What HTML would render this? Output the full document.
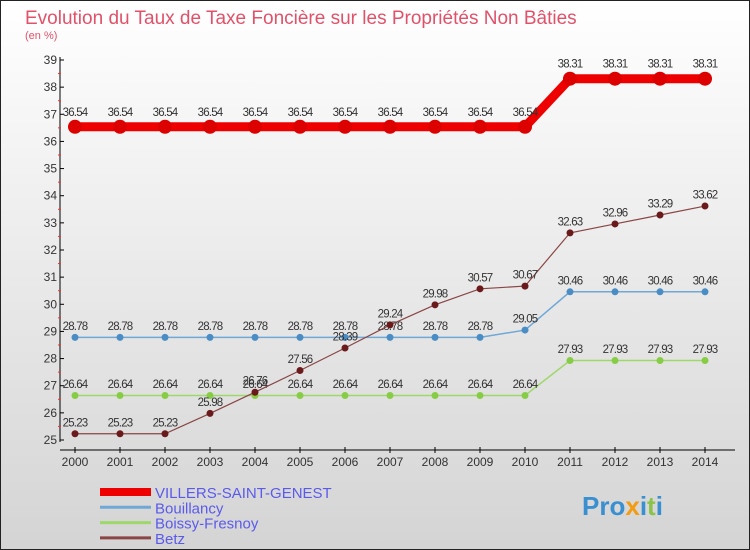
<!DOCTYPE html>
<html><head><meta charset="utf-8"><style>
body{margin:0}
#c{width:750px;height:550px;position:relative;overflow:hidden;font-family:"Liberation Sans",sans-serif}
</style></head><body>
<div id="c">
<svg id="s" width="750" height="550" xmlns="http://www.w3.org/2000/svg">
<defs><linearGradient id="bg" x1="0" y1="0" x2="0" y2="1"><stop offset="0" stop-color="#ffffff"/><stop offset="1" stop-color="#d4d4d4"/></linearGradient></defs>
<rect x="0.5" y="0.5" width="749" height="549" fill="url(#bg)" stroke="#222"/>
<text x="25" y="24" font-size="19" fill="#e0526a">Evolution du Taux de Taxe Foncière sur les Propriétés Non Bâties</text>
<text x="25" y="39" font-size="11" fill="#e0526a">(en %)</text>
<g id="axes"></g><g id="series"></g><g id="legend"></g>
<text x="582" y="515" font-size="26" font-weight="bold" fill="#3a8fd0">Pro<tspan fill="#f39c12">x</tspan>i<tspan fill="#8bc34a">t</tspan>i</text>
</svg>
</div>
<script>
const years=["2000","2001","2002","2003","2004","2005","2006","2007","2008","2009","2010","2011","2012","2013","2014"];
const villers=[36.54,36.54,36.54,36.54,36.54,36.54,36.54,36.54,36.54,36.54,36.54,38.31,38.31,38.31,38.31];
const bouillancy=[28.78,28.78,28.78,28.78,28.78,28.78,28.78,28.78,28.78,28.78,29.05,30.46,30.46,30.46,30.46];
const boissy=[26.64,26.64,26.64,26.64,26.64,26.64,26.64,26.64,26.64,26.64,26.64,27.93,27.93,27.93,27.93];
const betz=[25.23,25.23,25.23,25.98,26.76,27.56,28.39,29.24,29.98,30.57,30.67,32.63,32.96,33.29,33.62];
const yTicks=[25,26,27,28,29,30,31,32,33,34,35,36,37,38,39];
const NS="http://www.w3.org/2000/svg";
const X=i=>75+i*45, Y=v=>60+(39-v)*(380/14);
function mk(p,t,a,txt){const e=document.createElementNS(NS,t);for(const k in a)e.setAttribute(k,a[k]);if(txt!==undefined)e.textContent=txt;p.appendChild(e);return e;}
const ax=document.getElementById('axes');
let e=mk(ax,'line',{x1:60,y1:57,x2:60,y2:442,stroke:'#000'});


e=mk(ax,'line',{x1:60,y1:450,x2:735,y2:450,stroke:'#000'});


yTicks.forEach(v=>{
 mk(ax,'line',{x1:60,y1:Y(v),x2:64,y2:Y(v),stroke:'#000'});
 if(v<39)mk(ax,'line',{x1:58,y1:Y(v+0.5),x2:61,y2:Y(v+0.5),stroke:'#e33'});
 const t=mk(ax,'text',{x:57,y:Y(v)+4,'font-size':12,'text-anchor':'end',fill:'#333'},String(v));
 
 
});
years.forEach((y,i)=>{
 mk(ax,'line',{x1:X(i),y1:447,x2:X(i),y2:453,stroke:'#000'});
 const t=mk(ax,'text',{x:X(i),y:466,'font-size':12,'text-anchor':'middle',fill:'#333'},y);
 
 
});
const sg=document.getElementById('series');
const defs=[
 {n:'villers',d:villers,c:'#ee0000',dot:'#dd0000',w:9,r:7},
 {n:'bouillancy',d:bouillancy,c:'#6fa8d6',dot:'#4a8cc4',w:1.5,r:3.5},
 {n:'boissy',d:boissy,c:'#9ed86a',dot:'#86cc44',w:1.5,r:3.5},
 {n:'betz',d:betz,c:'#8a4545',dot:'#6a1a1a',w:1.2,r:3.5}];
defs.forEach(s=>{
 const g=mk(sg,'g',{});
 
 
 const pl=mk(g,'polyline',{points:s.d.map((v,i)=>X(i)+','+Y(v)).join(' '),fill:'none',stroke:s.c,'stroke-width':s.w});
 
 
 s.d.forEach((v,i)=>{
  const c=mk(g,'circle',{cx:X(i),cy:Y(v),r:s.r,fill:s.dot});
  
  
  const t=mk(g,'text',{x:X(i),y:Y(v)-(s.r+4),'font-size':11.5,'text-anchor':'middle',fill:'#333','letter-spacing':'-0.8'},v.toFixed(2));
  
  
 });
});
const lg=document.getElementById('legend');
const names=['VILLERS-SAINT-GENEST','Bouillancy','Boissy-Fresnoy','Betz'];
names.forEach((n,i)=>{
 const y=492+i*15.3;
 const g=mk(lg,'g',{});
 
 
 mk(g,'line',{x1:100,y1:y,x2:151,y2:y,stroke:defs[i].c,'stroke-width':i==0?8:3});
 mk(g,'text',{x:155,y:y+6,'font-size':15,fill:'#5a5aee'},n);
});
</script>
</body></html>
